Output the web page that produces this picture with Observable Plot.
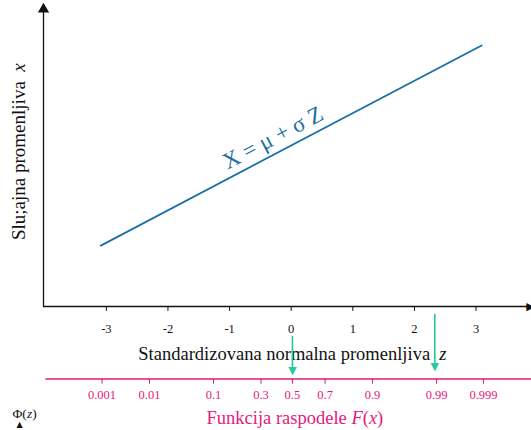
<!DOCTYPE html>
<html>
<head>
<meta charset="utf-8">
<script src="https://cdn.jsdelivr.net/npm/d3@7"></script>
<script src="https://cdn.jsdelivr.net/npm/@observablehq/plot@0.6"></script>
<style>
  html, body { margin: 0; padding: 0; background: #fff; }
  svg { display: block; }
</style>
</head>
<body>
<div id="chart"></div>
<script>
// Standard normal variable z: axis ticks
const zTicks = [-3, -2, -1, 0, 1, 2, 3];
// Line X = mu + sigma Z, endpoints (z, x)
const lineZ = [-3.09, 3.09];
const lineX = [2.1, 9.0];
// Distribution function scale: probability labels and their z positions
const probLabels = ["0.001", "0.01", "0.1", "0.3", "0.5", "0.7", "0.9", "0.99", "0.999"];
const probZ = [-3.07, -2.30, -1.26, -0.49, 0.02, 0.55, 1.32, 2.36, 3.12];
// Highlighted z values (green arrows)
const arrowZ = [0.02, 2.33];

const BLUE = "#1a6fa3";
const PINK = "#e5197b";
const GREEN = "#22c99a";

const zMin = -4.02, zMax = 3.9;
const lineData = lineZ.map((z, i) => ({z, x: lineX[i]}));

const chart = Plot.plot({
  width: 531,
  height: 430,
  marginLeft: 43,
  marginRight: 0,
  marginTop: 16,
  marginBottom: 124,
  style: "font-family: 'Liberation Serif', serif; background: #fff;",
  x: {domain: [zMin, zMax], axis: null},
  y: {domain: [0, 10], axis: null},
  marks: [
    // axes
    Plot.ruleY([0], {x1: zMin, x2: zMax, stroke: "#111", strokeWidth: 1.3}),
    Plot.ruleX([zMin], {y1: 0, y2: 10.2, stroke: "#111", strokeWidth: 1.3}),
    Plot.dot([{x: zMin, y: 10.25}], {x: "x", y: "y", symbol: "triangle", r: 4.2, fill: "#111", stroke: "none"}),
    Plot.text([{x: zMax, y: 0}], {x: "x", y: "y", text: () => "▶", fontSize: 11, fill: "#111", dx: -1, className: "sym"}),
    // z ticks
    Plot.ruleX(zTicks, {x: d => d, y1: 0, y2: -0.17, stroke: "#111", strokeWidth: 1}),
    Plot.text(zTicks, {x: d => d, y: -0.76, text: d => String(d), fontSize: 12.5, fill: "#111"}),
    // the line
    Plot.line(lineData, {x: "z", y: "x", stroke: BLUE, strokeWidth: 1.8}),
    Plot.text([{z: -0.30, x: 5.82}], {x: "z", y: "x", text: () => "X = μ + σ Z", rotate: -27.7, fontSize: 23, fill: BLUE}),
    // y label
    Plot.text([{y: 5.34}], {y: "y", frameAnchor: "left", dx: -25, textAnchor: "middle", text: () => "Slu;ajna promenljiva  x", rotate: -90, fontSize: 19, fill: "#111", className: "ylab"}),
    // z label
    Plot.text([{z: 0.02}], {x: "z", y: -1.65, text: () => "Standardizovana normalna promenljiva  z", fontSize: 18.5, fill: "#111", className: "zlab"}),
    // F(x) axis
    Plot.ruleY([-2.503], {x1: -3.98, x2: zMax, stroke: PINK, strokeWidth: 1.5}),
    Plot.ruleX(probZ, {x: d => d, y1: -2.503, y2: -2.68, stroke: PINK, strokeWidth: 1}),
    Plot.text(probZ, {x: d => d, y: -3.06, text: (d, i) => probLabels[i], fontSize: 12.5, fill: PINK}),
    Plot.text([{z: 0.06}], {x: "z", y: -3.86, text: () => "Funkcija raspodele F(x)", fontSize: 18.5, fill: PINK, className: "flab"}),
    // Phi(z)
    Plot.text([{y: -3.68}], {y: "y", frameAnchor: "left", dx: -31, textAnchor: "start", text: () => "Φ(z)", fontSize: 13.5, fill: "#111", className: "phi"}),
    Plot.text([{y: -4.07}], {y: "y", frameAnchor: "left", dx: -24, textAnchor: "middle", text: () => "▲", fontSize: 8, fill: "#111", className: "sym"}),
    // green arrows
    Plot.ruleX([arrowZ[0]], {x: d => d, y1: -1.03, y2: -2.1, stroke: GREEN, strokeWidth: 1.6}),
    Plot.ruleX([arrowZ[1]], {x: d => d, y1: -0.27, y2: -1.96, stroke: GREEN, strokeWidth: 1.6}),
    Plot.text(arrowZ, {x: d => d, y: (d, i) => i === 0 ? -2.2 : -2.06, text: () => "▼", fontSize: 11, fill: GREEN, className: "sym"})
  ]
});

document.getElementById("chart").appendChild(chart);

const svg = d3.select(chart);
// force fonts inline
svg.selectAll("text").style("font-family", "'Liberation Serif', serif");
svg.selectAll("g.sym text").style("font-family", "'DejaVu Sans', sans-serif");

// italic variable letters via tspans
function rich(cls, parts) {
  svg.selectAll("g." + cls + " text").each(function() {
    const t = d3.select(this);
    t.text(null);
    parts.forEach(([s, it]) => {
      const sp = t.append("tspan").text(s);
      if (it) sp.attr("font-style", "italic");
    });
  });
}
rich("ylab", [["Slu;ajna promenljiva  ", false], ["x", true]]);
rich("zlab", [["Standardizovana normalna promenljiva  ", false], ["z", true]]);
rich("flab", [["Funkcija raspodele ", false], ["F", true], ["(", false], ["x", true], [")", false]]);
rich("phi", [["Φ(", false], ["z", true], [")", false]]);
</script>
</body>
</html>
